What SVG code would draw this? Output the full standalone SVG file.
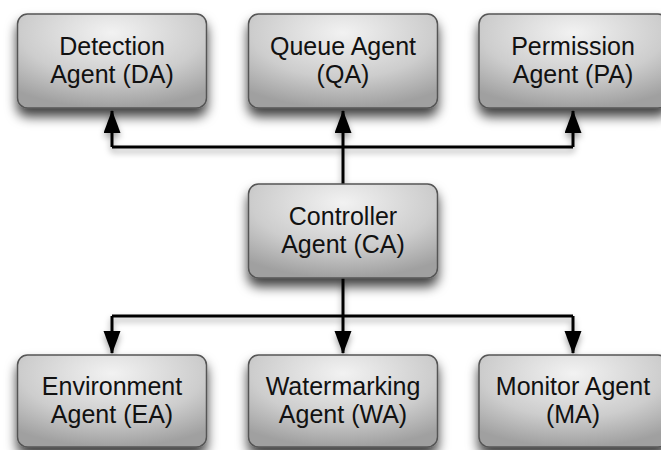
<svg xmlns="http://www.w3.org/2000/svg" width="661" height="450" viewBox="0 0 661 450">
<style>
.box{fill:url(#g);stroke:#555;stroke-width:1.5;filter:url(#sh)}
.t{font-family:"Liberation Sans",Arial,sans-serif;font-size:25px;fill:#111;text-anchor:middle}
.c{fill:none;stroke:#000;stroke-width:3}
</style>
<defs>
<radialGradient id="g" cx="0.5" cy="0.2" r="0.8">
<stop offset="0" stop-color="#f2f2f2"/>
<stop offset="0.6" stop-color="#cdcdcd"/>
<stop offset="1" stop-color="#a0a0a0"/>
</radialGradient>
<filter id="sh" x="-20%" y="-20%" width="140%" height="160%">
<feDropShadow dx="0" dy="8" stdDeviation="6" flood-color="#000" flood-opacity="0.75"/>
</filter>
<filter id="lsh" x="-20%" y="-20%" width="140%" height="160%">
<feDropShadow dx="0" dy="4" stdDeviation="3" flood-color="#000" flood-opacity="0.35"/>
</filter>
<marker id="ah" markerUnits="userSpaceOnUse" markerWidth="24" markerHeight="18" refX="22" refY="8.5" orient="auto">
<path d="M0,0 L23,8.5 L0,17 z" fill="#000"/>
</marker>
</defs>
<g id="connectors" filter="url(#lsh)">
<path class="c" d="M343,184 V147"/>
<path class="c" d="M112,147 H573"/>
<path class="c" d="M112,147 V111" marker-end="url(#ah)"/>
<path class="c" d="M343,147 V111" marker-end="url(#ah)"/>
<path class="c" d="M573,147 V111" marker-end="url(#ah)"/>
<path class="c" d="M343,278 V316"/>
<path class="c" d="M112,316 H573"/>
<path class="c" d="M112,316 V353" marker-end="url(#ah)"/>
<path class="c" d="M343,316 V353" marker-end="url(#ah)"/>
<path class="c" d="M573,316 V353" marker-end="url(#ah)"/>
</g>
<g id="DA"><rect class="box" x="17.5" y="14" width="189" height="94" rx="10"/><text class="t" x="112" y="55">Detection</text><text class="t" x="112" y="83">Agent (DA)</text></g>
<g id="QA"><rect class="box" x="248.5" y="14" width="189" height="94" rx="10"/><text class="t" x="343" y="55">Queue Agent</text><text class="t" x="343" y="83">(QA)</text></g>
<g id="PA"><rect class="box" x="479" y="14" width="189" height="94" rx="10"/><text class="t" x="573" y="55">Permission</text><text class="t" x="573" y="83">Agent (PA)</text></g>
<g id="CA"><rect class="box" x="248.5" y="184" width="189" height="94" rx="10"/><text class="t" x="343" y="225">Controller</text><text class="t" x="343" y="253">Agent (CA)</text></g>
<g id="EA"><rect class="box" x="17.5" y="355" width="189" height="92" rx="10"/><text class="t" x="112" y="395">Environment</text><text class="t" x="112" y="423">Agent (EA)</text></g>
<g id="WA"><rect class="box" x="248.5" y="355" width="189" height="92" rx="10"/><text class="t" x="343" y="395">Watermarking</text><text class="t" x="343" y="423">Agent (WA)</text></g>
<g id="MA"><rect class="box" x="479" y="355" width="189" height="92" rx="10"/><text class="t" x="573" y="395">Monitor Agent</text><text class="t" x="573" y="423">(MA)</text></g>
</svg>
